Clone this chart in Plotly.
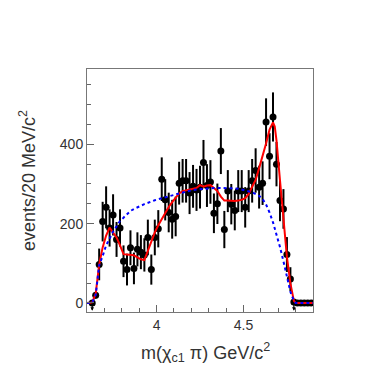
import plotly.graph_objects as go

# chi_c1 pi invariant mass, 20 MeV bins
mass = [3.63, 3.65, 3.67, 3.69, 3.71, 3.73, 3.75, 3.77, 3.79, 3.81,
        3.83, 3.85, 3.87, 3.89, 3.91, 3.93, 3.95, 3.97, 3.99, 4.01,
        4.03, 4.05, 4.07, 4.09, 4.11, 4.13, 4.15, 4.17, 4.19, 4.21,
        4.23, 4.25, 4.27, 4.29, 4.31, 4.33, 4.35, 4.37, 4.39, 4.41,
        4.43, 4.45, 4.47, 4.49, 4.51, 4.53, 4.55, 4.57, 4.59, 4.61,
        4.63, 4.65, 4.67, 4.69, 4.71, 4.73, 4.75, 4.77, 4.79, 4.81,
        4.83, 4.85, 4.87, 4.89]
events = [0, 19, 97, 205, 241, 189, 222, 160, 189, 105,
          84, 139, 87, 135, 128, 121, 165, 84, 165, 187,
          312, 260, 228, 211, 218, 302, 308, 308, 277, 294,
          285, 292, 354, 296, 305, 226, 250, 383, 185, 282,
          249, 233, 282, 282, 241, 282, 308, 334, 292, 302,
          456, 370, 469, 350, 258, 237, 122, 60, 2, 0,
          0, 0, 0, 0]
errors = [5, 8, 40, 50, 53, 47, 52, 44, 47, 40,
          40, 44, 40, 43, 43, 42, 45, 38, 45, 47,
          55, 52, 50, 49, 50, 54, 55, 55, 53, 54,
          53, 54, 57, 54, 55, 50, 51, 58, 47, 53,
          51, 50, 53, 53, 51, 53, 55, 56, 54, 55,
          60, 58, 62, 56, 52, 50, 44, 30, 6, 2,
          2, 2, 2, 2]

# total fit (red)
fit_x = [3.60, 3.63, 3.65, 3.67, 3.69, 3.71, 3.73, 3.75, 3.77, 3.79,
         3.81, 3.83, 3.85, 3.87, 3.89, 3.91, 3.93, 3.95, 3.97, 3.99,
         4.01, 4.03, 4.05, 4.07, 4.09, 4.11, 4.13, 4.15, 4.17, 4.19,
         4.21, 4.23, 4.25, 4.27, 4.29, 4.31, 4.33, 4.35, 4.37, 4.39,
         4.41, 4.43, 4.45, 4.47, 4.49, 4.51, 4.53, 4.55, 4.57, 4.59,
         4.61, 4.63, 4.65, 4.67, 4.68, 4.69, 4.71, 4.73, 4.75, 4.77,
         4.79, 4.80, 4.90]
fit_y = [0, 1, 23, 97, 140, 170, 190, 178, 165, 145,
         123, 122, 121, 120, 115, 110, 108, 132, 155, 178,
         196, 212, 227, 242, 254, 266, 276, 282, 284, 286,
         288, 290, 297, 293, 296, 297, 290, 282, 268, 258,
         258, 257, 257, 258, 260, 264, 275, 293, 310, 340,
         370, 402, 437, 455, 445, 410, 310, 217, 116, 49,
         5, 0, 0]

# background / phase space (blue dotted)
bkg_x = [3.60, 3.63, 3.65, 3.67, 3.69, 3.71, 3.73, 3.75, 3.77, 3.79,
         3.81, 3.83, 3.85, 3.87, 3.89, 3.91, 3.93, 3.95, 3.97, 3.99,
         4.03, 4.07, 4.11, 4.15, 4.19, 4.23, 4.27, 4.31, 4.35, 4.39,
         4.43, 4.47, 4.51, 4.55, 4.59, 4.61, 4.63, 4.65, 4.67, 4.69,
         4.71, 4.73, 4.75, 4.77, 4.79, 4.80, 4.90]
bkg_y = [0, 1, 20, 95, 118, 145, 162, 180, 193, 207,
         215, 224, 232, 237, 242, 245, 249, 253, 256, 259,
         264, 269, 274, 279, 283, 286, 288, 289, 290, 290,
         289, 288, 284, 279, 270, 262, 248, 228, 203, 175,
         141, 105, 63, 28, 5, 0, 0]

arrow_x = [3.63, 4.79]

fig = go.Figure()

fig.add_trace(go.Scatter(
    x=mass, y=events,
    mode='markers',
    marker=dict(color='black', size=7),
    error_y=dict(type='data', array=errors, color='black', thickness=2, width=0),
    showlegend=False
))
fig.add_trace(go.Scatter(
    x=fit_x, y=fit_y, mode='lines',
    line=dict(color='#ff0000', width=2),
    showlegend=False
))
fig.add_trace(go.Scatter(
    x=bkg_x, y=bkg_y, mode='lines',
    line=dict(color='#0000ff', width=2, dash='dot'),
    showlegend=False
))

for xa in arrow_x:
    fig.add_annotation(
        x=xa, y=-20, xref='x', yref='y',
        ax=0, ay=-9, showarrow=True,
        arrowhead=2, arrowsize=0.6, arrowwidth=1.2, arrowcolor='black', text=''
    )

axis_font = dict(family='Liberation Sans, Arial, sans-serif', size=14, color='#333333')
title_font = dict(family='Liberation Sans, Arial, sans-serif', size=18, color='#333333')

fig.update_xaxes(
    range=[3.6, 4.9],
    tickvals=[4, 4.5], ticktext=['4', '4.5'],
    ticks='inside', ticklen=7, tickwidth=1, tickcolor='#666666',
    minor=dict(dtick=0.1, tick0=3.6, ticks='inside', ticklen=4, tickcolor='#666666'),
    showline=True, linecolor='#777777', linewidth=1, mirror=True,
    showgrid=False, zeroline=False,
    tickfont=axis_font
)
fig.update_yaxes(
    range=[-23, 590],
    tickvals=[0, 200, 400],
    ticks='inside', ticklen=7, tickwidth=1, tickcolor='#666666',
    minor=dict(dtick=50, tick0=0, ticks='inside', ticklen=4, tickcolor='#666666'),
    showline=True, linecolor='#777777', linewidth=1, mirror=True,
    showgrid=False, zeroline=False,
    tickfont=axis_font
)

fig.add_annotation(
    text='m(χ<sub>c1</sub> π) GeV/c<sup>2</sup>',
    xref='paper', yref='paper', x=0.525, y=-0.166,
    xanchor='center', yanchor='middle', showarrow=False,
    font=title_font
)
fig.add_annotation(
    text='events/20 MeV/c<sup>2</sup>',
    xref='paper', yref='paper', x=-0.26, y=0.54,
    xanchor='center', yanchor='middle', textangle=-90, showarrow=False,
    font=title_font
)

# page body adds an 8px offset, so the figure is sized to fit inside it
fig.update_layout(
    width=374, height=374,
    margin=dict(l=79, r=69, t=61, b=70),
    plot_bgcolor='white', paper_bgcolor='white',
    showlegend=False
)

fig.write_html("out.html")
